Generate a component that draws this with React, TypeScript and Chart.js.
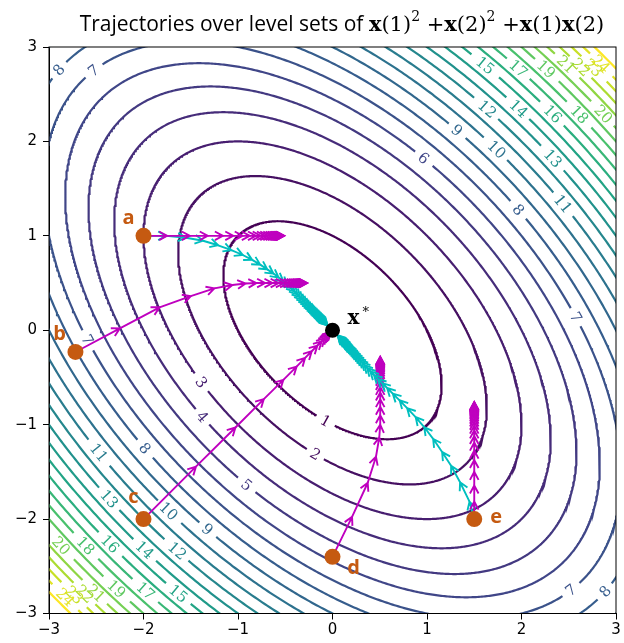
import { useEffect, useRef } from "react"
import { Chart, registerables, type Plugin } from "chart.js"

Chart.register(...registerables)

// axis ticks
const xTicks = [-3, -2, -1, 0, 1, 2, 3]
const yTicks = [-3, -2, -1, 0, 1, 2, 3]

// contour levels of f(x) = x1^2 + x2^2 + x1*x2
const levels = [1, 2, 3, 4, 5, 6, 7, 8, 9, 10, 11, 12, 13, 14, 15, 16, 17, 18, 19, 20, 21, 22, 23, 24, 25]

// inline contour labels: [level, approx x, approx y]
const labelSpots: [number, number, number][] = [
  [1, -0.07, -0.93],
  [2, -0.18, -1.3],
  [3, -1.38, -0.55],
  [4, -1.38, -0.92],
  [5, -0.9, -1.62],
  [6, 0.97, 1.835],
  [7, -2.54, 2.76],
  [7, 2.52, -2.75],
  [7, 2.6, 0.14],
  [7, -2.57, -0.1],
  [8, -2.92, 2.78],
  [8, 2.89, -2.77],
  [8, 1.99, 1.29],
  [8, -1.97, -1.24],
  [9, 1.33, 2.14],
  [9, -1.32, -2.1],
  [10, 1.75, 1.93],
  [10, -1.72, -1.9],
  [11, 2.46, 1.35],
  [11, -2.46, -1.29],
  [12, 1.65, 2.36],
  [12, -1.64, -2.33],
  [13, 2.35, 1.835],
  [13, -2.34, -1.77],
  [14, 1.98, 2.36],
  [14, -1.99, -2.33],
  [15, 1.63, 2.83],
  [15, -1.62, -2.77],
  [16, 2.35, 2.31],
  [16, -2.34, -2.25],
  [17, 1.98, 2.79],
  [17, -1.97, -2.75],
  [18, 2.63, 2.3],
  [18, -2.61, -2.28],
  [19, 2.28, 2.79],
  [19, -2.27, -2.72],
  [20, 2.88, 2.3],
  [20, -2.87, -2.28],
  [21, 2.51, 2.86],
  [21, -2.49, -2.77],
  [22, 2.67, 2.83],
  [22, -2.63, -2.8],
  [23, 2.8, 2.82],
  [23, -2.72, -2.79],
  [24, 2.9, 2.88],
  [24, -2.84, -2.84],
]

// starting points and the optimum
const startNames = ["a", "b", "c", "d", "e"]
const startPoints: [number, number][] = [
  [-2, 1],
  [-2.72, -0.23],
  [-2, -2],
  [0, -2.4],
  [1.5, -2],
]
const optimum: [number, number] = [0, 0]

// trajectories (iterates)
const cyanA: [number, number][] = [
  [-2, 1], [-1.76, 1.0], [-1.55, 0.98], [-1.37, 0.948], [-1.21, 0.9], [-1.07, 0.848],
  [-0.95, 0.797], [-0.85, 0.745], [-0.765, 0.695], [-0.69, 0.645], [-0.625, 0.6],
  [-0.57, 0.558], [-0.52, 0.518], [-0.475, 0.48], [-0.435, 0.445], [-0.4, 0.41],
  [-0.37, 0.378], [-0.342, 0.348], [-0.316, 0.32], [-0.292, 0.295], [-0.27, 0.272],
  [-0.249, 0.25], [-0.23, 0.231], [-0.212, 0.213], [-0.196, 0.196], [-0.181, 0.181],
  [-0.167, 0.167], [-0.154, 0.154], [-0.142, 0.142], [-0.131, 0.131], [-0.121, 0.121],
  [-0.112, 0.112], [-0.103, 0.103], [-0.095, 0.095], [-0.088, 0.088], [-0.081, 0.081],
  [-0.075, 0.075], [-0.069, 0.069], [-0.064, 0.064], [-0.059, 0.059], [-0.054, 0.054],
  [-0.05, 0.05],
]
const magentaA: [number, number][] = [
  [-2, 1], [-1.75, 1], [-1.51, 1], [-1.32, 1], [-1.16, 1], [-1.05, 1], [-0.95, 1],
  [-0.875, 1], [-0.81, 1], [-0.76, 1], [-0.715, 1], [-0.68, 1], [-0.648, 1], [-0.622, 1],
  [-0.6, 1], [-0.582, 1], [-0.567, 1], [-0.555, 1], [-0.545, 1], [-0.537, 1], [-0.53, 1],
  [-0.525, 1], [-0.52, 1], [-0.516, 1], [-0.513, 1], [-0.51, 1],
]
const magentaB: [number, number][] = [
  [-2.72, -0.23], [-2.25, 0.02], [-1.83, 0.243], [-1.5, 0.362], [-1.25, 0.444],
  [-1.06, 0.479], [-0.92, 0.495], [-0.805, 0.5], [-0.713, 0.5], [-0.635, 0.5],
  [-0.57, 0.5], [-0.515, 0.5], [-0.47, 0.5], [-0.432, 0.5], [-0.4, 0.5], [-0.374, 0.5],
  [-0.352, 0.5], [-0.334, 0.5], [-0.319, 0.5], [-0.307, 0.5], [-0.297, 0.5],
  [-0.289, 0.5], [-0.282, 0.5], [-0.276, 0.5], [-0.271, 0.5], [-0.267, 0.5],
]
const magentaC: [number, number][] = [
  [-2, -2], [-1.445, -1.445], [-1.027, -1.03], [-0.727, -0.729], [-0.52, -0.525],
  [-0.38, -0.385], [-0.29, -0.293], [-0.22, -0.222], [-0.16, -0.162], [-0.115, -0.117],
  [-0.083, -0.084], [-0.06, -0.06], [-0.043, -0.043], [-0.031, -0.031], [-0.022, -0.022],
  [-0.016, -0.016],
]
const magentaD: [number, number][] = [
  [0, -2.4], [0.207, -1.976], [0.373, -1.615], [0.46, -1.34], [0.495, -1.135],
  [0.505, -1.0], [0.505, -0.9], [0.505, -0.81], [0.505, -0.73], [0.505, -0.66],
  [0.505, -0.6], [0.505, -0.548], [0.505, -0.503], [0.505, -0.465], [0.505, -0.432],
  [0.505, -0.405], [0.505, -0.382], [0.505, -0.362], [0.505, -0.346], [0.505, -0.332],
  [0.505, -0.32], [0.505, -0.31], [0.505, -0.302], [0.505, -0.295], [0.505, -0.289],
  [0.505, -0.284], [0.505, -0.28],
]
const cyanE: [number, number][] = [
  [1.5, -2], [1.45, -1.815], [1.35, -1.61], [1.255, -1.435], [1.16, -1.29], [1.065, -1.15],
  [0.97, -1.025], [0.88, -0.92], [0.79, -0.825], [0.71, -0.742], [0.638, -0.672],
  [0.578, -0.612], [0.525, -0.56], [0.48, -0.515], [0.438, -0.474], [0.4, -0.436],
  [0.367, -0.4], [0.338, -0.367], [0.311, -0.337], [0.287, -0.31], [0.265, -0.285],
  [0.245, -0.262], [0.226, -0.241], [0.209, -0.222], [0.193, -0.204], [0.178, -0.188],
  [0.164, -0.173], [0.151, -0.159], [0.14, -0.146], [0.129, -0.134], [0.119, -0.123],
  [0.11, -0.113], [0.101, -0.104], [0.093, -0.096], [0.086, -0.088], [0.079, -0.081],
  [0.073, -0.075], [0.067, -0.069], [0.062, -0.063], [0.057, -0.058], [0.052, -0.053],
]
const magentaE: [number, number][] = [
  [1.5, -2], [1.5, -1.815], [1.5, -1.645], [1.5, -1.5], [1.5, -1.375], [1.5, -1.275],
  [1.5, -1.19], [1.5, -1.12], [1.5, -1.06], [1.5, -1.01], [1.5, -0.969], [1.5, -0.934],
  [1.5, -0.905], [1.5, -0.88], [1.5, -0.86], [1.5, -0.843], [1.5, -0.828], [1.5, -0.816],
  [1.5, -0.805], [1.5, -0.796], [1.5, -0.789], [1.5, -0.783], [1.5, -0.778], [1.5, -0.774],
  [1.5, -0.77], [1.5, -0.766], [1.5, -0.763], [1.5, -0.76],
]

const MAGENTA = "#bf00bf"
const CYAN = "#00bfbf"
const ORANGE = "#c55a11"

// draw order as in the original figure
const trajectories: { pts: [number, number][]; color: string }[] = [
  { pts: cyanA, color: CYAN },
  { pts: magentaA, color: MAGENTA },
  { pts: magentaB, color: MAGENTA },
  { pts: magentaC, color: MAGENTA },
  { pts: magentaD, color: MAGENTA },
  { pts: cyanE, color: CYAN },
  { pts: magentaE, color: MAGENTA },
]

// label placement relative to the point, in px
const nameOffsets: [number, number][] = [
  [-15, -18],
  [-16, -18],
  [-10, -22],
  [21, 11],
  [22, -2],
]

const VIRIDIS = ["#440154", "#482475", "#414487", "#355f8d", "#2a788e", "#21918c", "#22a884", "#44bf70", "#7ad151", "#bddf26", "#fde725"]

function viridis(t: number) {
  const s = Math.max(0, Math.min(1, t)) * 10
  const i = Math.min(9, Math.floor(s))
  const f = s - i
  const a = VIRIDIS[i], b = VIRIDIS[i + 1]
  const ch = (h: string, k: number) => parseInt(h.slice(1 + k * 2, 3 + k * 2), 16)
  const c = [0, 1, 2].map((k) => Math.round(ch(a, k) + (ch(b, k) - ch(a, k)) * f))
  return `rgb(${c[0]},${c[1]},${c[2]})`
}

const f = (x: number, y: number) => x * x + y * y + x * y
const SX = 94.9
const SY = 94.4
const labelFont = "15px 'DejaVu Serif'"

function projected(level: number, x: number, y: number): [number, number] {
  const s = Math.sqrt(level / f(x, y))
  return [x * s, y * s]
}

function contourData(level: number) {
  const gaps = labelSpots
    .filter((l) => l[0] === level)
    .map((l) => {
      const [px, py] = projected(level, l[1], l[2])
      return { px, py, r: 4.9 * String(level).length + 5 }
    })
  const a = Math.sqrt((2 * level) / 3)
  const b = Math.sqrt(2 * level)
  const out: { x: number; y: number | null }[] = []
  const n = 900
  for (let i = 0; i <= n; i++) {
    const t = (i / n) * Math.PI * 2
    const u = a * Math.cos(t)
    const v = b * Math.sin(t)
    const x = (u + v) / Math.SQRT2
    const y = (u - v) / Math.SQRT2
    const hidden = gaps.some((g) => Math.hypot((x - g.px) * SX, (y - g.py) * SY) < g.r)
    out.push({ x, y: hidden ? null : y })
  }
  return out
}

const fmtTick = (v: number) => (v < 0 ? "\u2212" + Math.abs(v) : String(v))

const overlay: Plugin<"line"> = {
  id: "overlay",
  beforeDatasetDraw(chart, args) {
    if (args.index !== 1) return
    const { ctx, chartArea } = chart
    const xs = chart.scales.x
    const ys = chart.scales.y
    ctx.save()
    ctx.beginPath()
    ctx.rect(chartArea.left, chartArea.top, chartArea.right - chartArea.left, chartArea.bottom - chartArea.top)
    ctx.clip()

    // contour labels
    ctx.font = labelFont
    ctx.textAlign = "center"
    ctx.textBaseline = "middle"
    for (const [level, lx, ly] of labelSpots) {
      const [x, y] = projected(level, lx, ly)
      const px = xs.getPixelForValue(x)
      const py = ys.getPixelForValue(y)
      const tx = -(2 * y + x) * SX
      const ty = (2 * x + y) * SY
      let ang = Math.atan2(-ty, tx)
      if (ang > Math.PI / 2) ang -= Math.PI
      if (ang < -Math.PI / 2) ang += Math.PI
      ctx.save()
      ctx.translate(px, py)
      ctx.rotate(ang)
      ctx.fillStyle = viridis((level - levels[0]) / (levels[levels.length - 1] - levels[0]))
      ctx.fillText(String(level), 0, 1)
      ctx.restore()
    }

    // arrows
    const L = 8
    const W = 4.3
    ctx.lineWidth = 1.9
    ctx.lineCap = "butt"
    ctx.lineJoin = "miter"
    for (const tr of trajectories) {
      ctx.strokeStyle = tr.color
      for (let i = 0; i + 1 < tr.pts.length; i++) {
        const x0 = xs.getPixelForValue(tr.pts[i][0])
        const y0 = ys.getPixelForValue(tr.pts[i][1])
        const x1 = xs.getPixelForValue(tr.pts[i + 1][0])
        const y1 = ys.getPixelForValue(tr.pts[i + 1][1])
        const len = Math.hypot(x1 - x0, y1 - y0)
        if (len < 0.05) continue
        const dx = (x1 - x0) / len
        const dy = (y1 - y0) / len
        ctx.beginPath()
        ctx.moveTo(x0, y0)
        ctx.lineTo(x1, y1)
        ctx.moveTo(x1 - L * dx - W * dy, y1 - L * dy + W * dx)
        ctx.lineTo(x1, y1)
        ctx.lineTo(x1 - L * dx + W * dy, y1 - L * dy - W * dx)
        ctx.stroke()
      }
    }
    ctx.restore()
  },
  afterDatasetsDraw(chart) {
    const { ctx } = chart
    const xs = chart.scales.x
    const ys = chart.scales.y
    ctx.save()
    ctx.fillStyle = ORANGE
    ctx.font = "bold 20px 'Open Sans'"
    ctx.textAlign = "center"
    ctx.textBaseline = "middle"
    startPoints.forEach(([x, y], i) => {
      const px = xs.getPixelForValue(x) + nameOffsets[i][0]
      const py = ys.getPixelForValue(y) + nameOffsets[i][1]
      ctx.fillText(startNames[i], px, py)
    })
    const ox = xs.getPixelForValue(optimum[0])
    const oy = ys.getPixelForValue(optimum[1])
    ctx.fillStyle = "#000"
    ctx.font = "bold 20px 'DejaVu Serif'"
    ctx.textAlign = "left"
    ctx.textBaseline = "alphabetic"
    ctx.fillText("x", ox + 15, oy - 6)
    ctx.font = "13px 'DejaVu Serif'"
    ctx.fillText("*", ox + 30, oy - 14)
    ctx.restore()
  },
  afterDraw(chart) {
    const { ctx, chartArea } = chart
    ctx.save()
    ctx.strokeStyle = "#000"
    ctx.lineWidth = 1
    ctx.strokeRect(chartArea.left, chartArea.top, chartArea.right - chartArea.left, chartArea.bottom - chartArea.top)

    // title with math part
    const serif = "'DejaVu Serif'"
    const parts: [string, string, number][] = [
      ["Trajectories over level sets of ", "21px 'Open Sans'", 0],
      ["x", `bold 21px ${serif}`, 0],
      ["(1)", `21px ${serif}`, 0],
      ["2", `14px ${serif}`, -10],
      [" +", `21px ${serif}`, 0],
      ["x", `bold 21px ${serif}`, 0],
      ["(2)", `21px ${serif}`, 0],
      ["2", `14px ${serif}`, -10],
      [" +", `21px ${serif}`, 0],
      ["x", `bold 21px ${serif}`, 0],
      ["(1)", `21px ${serif}`, 0],
      ["x", `bold 21px ${serif}`, 0],
      ["(2)", `21px ${serif}`, 0],
    ]
    let total = 0
    for (const [t, font] of parts) {
      ctx.font = font
      total += ctx.measureText(t).width
    }
    let cx = 342 - total / 2
    ctx.fillStyle = "#000"
    ctx.textBaseline = "alphabetic"
    ctx.textAlign = "left"
    for (const [t, font, dy] of parts) {
      ctx.font = font
      ctx.fillText(t, cx, 31 + dy)
      cx += ctx.measureText(t).width
    }
    ctx.restore()
  },
}

export default function App() {
  const canvasRef = useRef<HTMLCanvasElement>(null)

  useEffect(() => {
    document.body.style.margin = "0"
    if (!canvasRef.current) return

    const contourSets = levels.map((level) => ({
      data: contourData(level),
      borderColor: viridis((level - levels[0]) / (levels[levels.length - 1] - levels[0])),
      borderWidth: 2.2,
      pointRadius: 0,
      tension: 0,
      spanGaps: false,
      clip: 0,
    }))

    const chart = new Chart(canvasRef.current, {
      type: "line",
      data: {
        datasets: [
          {
            data: startPoints.map(([x, y]) => ({ x, y })),
            showLine: false,
            pointRadius: 8,
            pointBackgroundColor: ORANGE,
            pointBorderWidth: 0,
            borderColor: ORANGE,
            clip: false,
          },
          {
            data: [{ x: optimum[0], y: optimum[1] }],
            showLine: false,
            pointRadius: 7.5,
            pointBackgroundColor: "#000",
            pointBorderWidth: 0,
            borderColor: "#000",
            clip: false,
          },
          ...contourSets,
        ] as any,
      },
      options: {
        responsive: false,
        animation: false,
        events: [],
        layout: { padding: { top: 47, right: 5.5, left: 0, bottom: 0 } },
        plugins: {
          legend: { display: false },
          tooltip: { enabled: false },
          title: { display: false },
        },
        scales: {
          x: {
            type: "linear",
            min: -3,
            max: 3,
            afterFit: (s) => {
              s.height = 29.5
            },
            afterBuildTicks: (s) => {
              s.ticks = xTicks.map((value) => ({ value }))
            },
            ticks: {
              callback: (v) => fmtTick(Number(v)),
              font: { family: "DejaVu Sans", size: 15 },
              color: "#000",
              padding: 2,
              maxRotation: 0,
              autoSkip: false,
            },
            grid: { display: true, drawOnChartArea: false, drawTicks: true, tickLength: 6, color: "#000" },
            border: { display: true, color: "#000" },
          },
          y: {
            type: "linear",
            min: -3,
            max: 3,
            afterFit: (s) => {
              s.width = 49
            },
            afterBuildTicks: (s) => {
              s.ticks = yTicks.map((value) => ({ value }))
            },
            ticks: {
              callback: (v) => fmtTick(Number(v)),
              font: { family: "DejaVu Sans", size: 15 },
              color: "#000",
              padding: 6,
              autoSkip: false,
            },
            grid: { display: true, drawOnChartArea: false, drawTicks: true, tickLength: 6, color: "#000" },
            border: { display: true, color: "#000" },
          },
        },
      },
      plugins: [overlay],
    })

    return () => {
      chart.destroy()
    }
  }, [])

  return (
    <div style={{ width: 624, height: 643, background: "#fff" }}>
      <canvas ref={canvasRef} width={624} height={643} style={{ display: "block" }} />
    </div>
  )
}
